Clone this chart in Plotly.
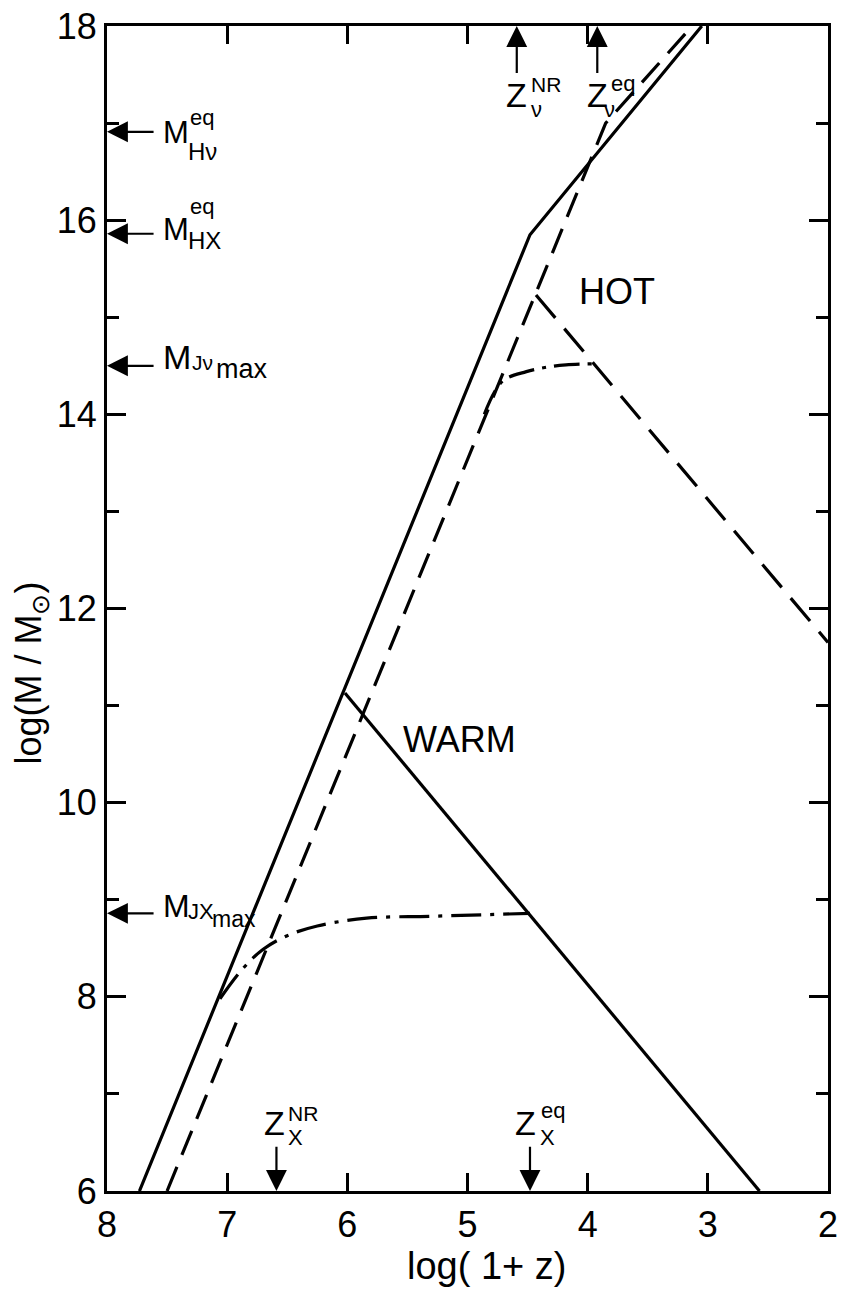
import plotly.graph_objects as go

# ---------------- data ----------------
# solid curve: rising M_J branch (both species) with kink
solid_rise_x = [7.73, 4.48, 3.05]
solid_rise_y = [6.0, 15.85, 18.0]
# solid curve: falling warm branch
solid_fall_x = [6.02, 2.57]
solid_fall_y = [11.13, 6.0]
# dashed curve: rising branch
dashed_rise_x = [7.50, 3.85, 3.13]
dashed_rise_y = [6.0, 17.0, 18.0]
# dashed curve: falling hot branch
dashed_fall_x = [4.43, 2.0]
dashed_fall_y = [15.23, 11.65]
# dash-dot curves (max Jeans mass plateaus)
warm_dd_x = [7.06, 6.87, 6.70, 6.50, 6.25, 5.84, 5.29, 4.48]
warm_dd_y = [7.98, 8.29, 8.49, 8.63, 8.73, 8.81, 8.83, 8.86]
hot_dd_x = [4.86, 4.71, 4.51, 4.32, 4.18, 3.96]
hot_dd_y = [14.00, 14.34, 14.44, 14.49, 14.51, 14.52]

# axis ticks
x_ticks = [8, 7, 6, 5, 4, 3, 2]
y_ticks = [6, 8, 10, 12, 14, 16, 18]

# marked levels on the mass axis and redshifts on the z axis
m_levels = {"Hnu_eq": 16.91, "HX_eq": 15.86, "Jnu_max": 14.50, "JX_max": 8.86}
z_marks = {"nu_NR": 4.59, "nu_eq": 3.92, "X_NR": 6.59, "X_eq": 4.48}

FONT = "Liberation Sans, Arial, sans-serif"
LW = 3.2

fig = go.Figure()

def line(x, y, dash="solid", shape="linear"):
    fig.add_trace(go.Scatter(x=x, y=y, mode="lines", showlegend=False,
                             line=dict(color="black", width=LW, dash=dash, shape=shape),
                             hoverinfo="skip"))

line(solid_rise_x, solid_rise_y)
line(solid_fall_x, solid_fall_y)
line(dashed_rise_x, dashed_rise_y, dash="26px,13px")
line(dashed_fall_x, dashed_fall_y, dash="30px,14px")
line(warm_dd_x, warm_dd_y, dash="30px,9px,4px,9px", shape="spline")
line(hot_dd_x, hot_dd_y, dash="26px,8px,4px,8px", shape="spline")

def txt(x, y, text, size, dx=0, dy=0, anchor="left"):
    fig.add_annotation(x=x, y=y, xref="x", yref="y", text=text, showarrow=False,
                       xanchor=anchor, yanchor="middle", xshift=dx, yshift=dy,
                       borderpad=0,
                       font=dict(size=size, color="black", family=FONT))

def arrow(x, y, ax, ay):
    fig.add_annotation(x=x, y=y, xref="x", yref="y", ax=ax, ay=ay,
                       axref="x", ayref="y", text="", showarrow=True,
                       arrowhead=2, arrowsize=1.9, arrowwidth=2.2,
                       arrowcolor="black", standoff=0, startstandoff=0)

# left-hand mass markers
LX = 7.545  # left edge of the "M" labels
TAIL = 7.60
for key in m_levels:
    arrow(8.0, m_levels[key], TAIL, m_levels[key])

y = m_levels["Hnu_eq"]
txt(LX, y, "M", 31, 0, -1)
txt(LX, y, "Hν", 24, 25, -20)
txt(LX, y, "eq", 22, 27, 14)

y = m_levels["HX_eq"]
txt(LX, y, "M", 31, 0, 4)
txt(LX, y, "HX", 24, 25, -7)
txt(LX, y, "eq", 22, 27, 27)

y = m_levels["Jnu_max"]
txt(LX, y, "M", 34, 0, 9)
txt(LX, y, "Jν", 21, 29, 3)
txt(LX, y, "max", 27, 53, -3)

y = m_levels["JX_max"]
txt(LX, y, "M", 32, 0, 7)
txt(LX, y, "JX", 22, 25, 2)
txt(LX, y, "max", 23, 49, -6)

# top redshift markers (neutrinos)
for key in ["nu_NR", "nu_eq"]:
    arrow(z_marks[key], 18.0, z_marks[key], 17.50)
x = z_marks["nu_NR"]
txt(x, 18.0, "Z", 34, 0, -69, anchor="center")
txt(x, 18.0, "NR", 21, 13, -58)
txt(x, 18.0, "ν", 22, 13, -83)
x = z_marks["nu_eq"]
txt(x, 18.0, "Z", 34, 0, -69, anchor="center")
txt(x, 18.0, "eq", 22, 13, -57)
txt(x, 18.0, "ν", 22, 6, -83)

# bottom redshift markers (X particles)
for key in ["X_NR", "X_eq"]:
    arrow(z_marks[key], 6.0, z_marks[key], 6.47)
x = z_marks["X_NR"]
txt(x, 6.0, "Z", 34, -2, 68, anchor="center")
txt(x, 6.0, "NR", 21, 11, 78)
txt(x, 6.0, "X", 22, 11, 54)
x = z_marks["X_eq"]
txt(x, 6.0, "Z", 34, -4, 68, anchor="center")
txt(x, 6.0, "eq", 22, 10, 81)
txt(x, 6.0, "X", 22, 9, 54)

# region labels
txt(3.76, 15.27, "HOT", 36, 0, 0, anchor="center")
txt(5.07, 10.65, "WARM", 36, 0, 0, anchor="center")

# axis titles
fig.add_annotation(x=4.84, y=0, xref="x", yref="paper", yshift=-75, text="log( 1+ z)",
                   showarrow=False, xanchor="center", yanchor="middle",
                   font=dict(size=38, color="black", family=FONT))
fig.add_annotation(x=0, y=11.33, xref="paper", yref="y", xshift=-76, text="log(M / M<sub>⊙</sub>)",
                   showarrow=False, xanchor="center", yanchor="middle", textangle=-90,
                   font=dict(size=36, color="black", family=FONT))

fig.update_xaxes(range=[8, 2], tickmode="array", tickvals=x_ticks,
                 ticktext=[str(v) for v in x_ticks], automargin=False,
                 ticks="inside", ticklen=18, tickwidth=2.5, tickcolor="black",
                 showline=True, linewidth=3, linecolor="black", mirror="ticks",
                 showgrid=False, zeroline=False,
                 tickfont=dict(size=36, color="black", family=FONT))
fig.update_yaxes(range=[6, 18], tickmode="array", tickvals=y_ticks,
                 ticktext=[str(v) for v in y_ticks], automargin=False,
                 ticks="inside", ticklen=19, tickwidth=2.5, tickcolor="black",
                 showline=True, linewidth=3, linecolor="black", mirror="ticks",
                 showgrid=False, zeroline=False,
                 minor=dict(dtick=1, tick0=6, ticks="inside", ticklen=12,
                            tickwidth=2.5, tickcolor="black", showgrid=False),
                 tickfont=dict(size=36, color="black", family=FONT))

fig.update_layout(width=841, height=1289, autosize=False,
                  margin=dict(l=107, r=13, t=26, b=98, pad=0),
                  plot_bgcolor="white", paper_bgcolor="white",
                  font=dict(family=FONT, color="black"))

fig.write_html("out.html")
